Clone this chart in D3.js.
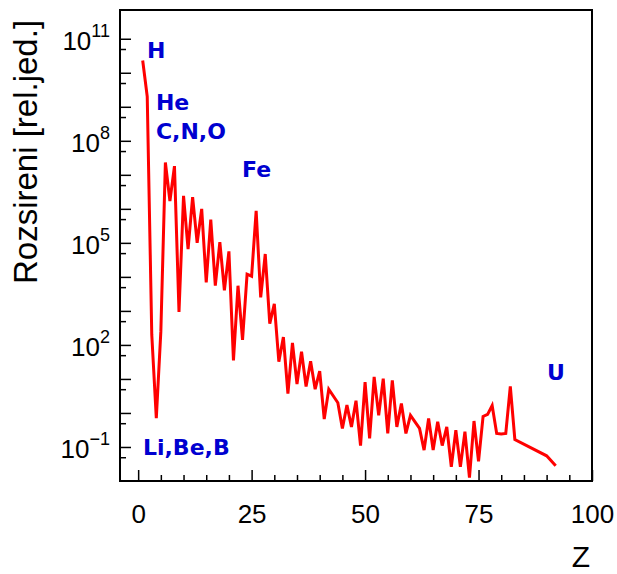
<!DOCTYPE html>
<html>
<head>
<meta charset="utf-8">
<script src="https://cdn.jsdelivr.net/npm/d3@7"></script>
<style>
  body { margin: 0; background: #fff; }
  svg { display: block; }
</style>
</head>
<body>
<div id="chart-area"></div>
<script>
// atomic number Z and relative abundance
var zValues = [1, 2, 3, 4, 5, 6, 7, 8, 9, 10,
    11, 12, 13, 14, 15, 16, 17, 18, 19, 20,
    21, 22, 23, 24, 25, 26, 27, 28, 29, 30,
    31, 32, 33, 34, 35, 36, 37, 38, 39, 40,
    41, 42, 44, 45, 46, 47, 48, 49, 50,
    51, 52, 53, 54, 55, 56, 57, 58, 59, 60,
    62, 63, 64, 65, 66, 67, 68, 69, 70,
    71, 72, 73, 74, 75, 76, 77, 78, 79, 80,
    81, 82, 83, 90, 92];
var abundance = [2.3e10, 2.0e9, 200, 0.7, 250, 2.3e7, 1.7e6, 1.8e7, 930, 2.4e6,
    6.6e4, 2.2e6, 1.0e5, 1.0e6, 6.9e3, 4.8e5, 5.5e3, 1.05e5, 4.0e3, 5.6e4,
    35, 5.5e3, 140, 1.2e4, 1.05e4, 8.7e5, 2.5e3, 4.7e4, 420, 1.6e3,
    32, 170, 3.7, 115, 7.1, 63, 6.0, 33, 5.0, 17,
    0.66, 5.0, 2.0, 0.35, 1.7, 0.39, 2.3, 0.11, 8.1,
    0.18, 11.5, 0.85, 10.2, 0.25, 9.1, 0.39, 1.9, 0.25, 0.85,
    0.35, 0.081, 0.69, 0.081, 0.55, 0.11, 0.39, 0.026, 0.31,
    0.026, 0.28, 0.0126, 0.58, 0.038, 0.79, 0.91, 1.66, 0.25, 0.24,
    0.25, 6.0, 0.166, 0.055, 0.028];

var xTickValues = [0, 25, 50, 75, 100];
var yTickExponents = [11, 8, 5, 2, -1];

var elementLabels = ["H", "He", "C,N,O", "Fe", "Li,Be,B", "U"];
var labelZ = [1.94, 3.92, 3.92, 22.9, 1.06, 90.1];
var labelValue = [2.8e10, 8.3e8, 1.1e8, 8.9e6, 0.059, 9.3];

var width = 617, height = 574;
var plot = { left: 120, right: 592, top: 10, bottom: 481 };

var svg = d3.select("#chart-area").append("svg")
    .attr("width", width)
    .attr("height", height);

svg.append("rect")
    .attr("width", width)
    .attr("height", height)
    .attr("fill", "#fff");

var xScale = d3.scaleLinear()
    .domain([-4, 100])
    .range([plot.left, plot.right]);

var yScale = d3.scaleLog()
    .domain([0.01, 7e11])
    .range([plot.bottom, plot.top]);

// x axis, ticks point inward
var xMinor = d3.range(0, 101, 5);
var xAxis = svg.append("g")
    .attr("transform", "translate(0," + plot.bottom + ")")
    .call(d3.axisBottom(xScale)
        .tickValues(xMinor)
        .tickSizeInner(-6)
        .tickSizeOuter(0)
        .tickPadding(24)
        .tickFormat(function (d) { return xTickValues.indexOf(d) >= 0 ? d : ""; }));
xAxis.select(".domain").remove();
xAxis.selectAll(".tick line")
    .attr("stroke", "#000")
    .attr("stroke-width", 1.5)
    .attr("y2", function (d) { return xTickValues.indexOf(d) >= 0 ? -11 : -6; });
xAxis.selectAll(".tick text")
    .attr("font-family", "'Liberation Sans', Arial, sans-serif")
    .attr("font-size", 26)
    .attr("fill", "#000");

// y axis: ticks at 10^n and 5*10^(n-1)
var yTicks = [];
for (var e = -1; e <= 11; e++) {
    yTicks.push(Math.pow(10, e));
    yTicks.push(5 * Math.pow(10, e - 1));
}
var yAxis = svg.append("g")
    .attr("transform", "translate(" + plot.left + ",0)")
    .call(d3.axisLeft(yScale)
        .tickValues(yTicks)
        .tickSizeInner(-6)
        .tickSizeOuter(0)
        .tickFormat(""));
yAxis.select(".domain").remove();
yAxis.selectAll(".tick line")
    .attr("stroke", "#000")
    .attr("stroke-width", 1.5)
    .attr("x2", function (d, i) { return i % 2 == 0 ? 11 : 6; });

var yLabels = svg.append("g")
    .attr("font-family", "'Liberation Sans', Arial, sans-serif")
    .attr("fill", "#000");
yTickExponents.forEach(function (n) {
    var t = yLabels.append("text")
        .attr("x", 110)
        .attr("y", yScale(Math.pow(10, n)) + 11)
        .attr("text-anchor", "end")
        .attr("font-size", 26);
    t.append("tspan").text("10");
    t.append("tspan")
        .attr("font-size", 18)
        .attr("dy", -13)
        .text(n < 0 ? "\u2212" + (-n) : n);
});

// frame
svg.append("rect")
    .attr("x", plot.left)
    .attr("y", plot.top)
    .attr("width", plot.right - plot.left)
    .attr("height", plot.bottom - plot.top)
    .attr("fill", "none")
    .attr("stroke", "#000")
    .attr("stroke-width", 2);

// abundance curve
var points = zValues.map(function (z, i) { return { z: z, v: abundance[i] }; });
svg.append("path")
    .datum(points)
    .attr("fill", "none")
    .attr("stroke", "#ff0000")
    .attr("stroke-width", 3)
    .attr("stroke-linejoin", "miter")
    .attr("d", d3.line()
        .x(function (d) { return xScale(d.z); })
        .y(function (d) { return yScale(d.v); }));

// element labels
svg.append("g")
    .selectAll("text")
    .data(elementLabels)
    .enter().append("text")
    .attr("x", function (d, i) { return xScale(labelZ[i]); })
    .attr("y", function (d, i) { return yScale(labelValue[i]); })
    .attr("font-family", "'DejaVu Sans', Verdana, sans-serif")
    .attr("font-weight", "bold")
    .attr("font-size", 22)
    .attr("fill", "#0000d0")
    .text(function (d) { return d; });

// axis titles
svg.append("text")
    .attr("transform", "translate(37,152) rotate(-90)")
    .attr("text-anchor", "middle")
    .attr("font-family", "'Liberation Sans', Arial, sans-serif")
    .attr("font-size", 33)
    .attr("fill", "#000")
    .text("Rozsireni [rel.jed.]");

svg.append("text")
    .attr("x", 581)
    .attr("y", 567)
    .attr("text-anchor", "middle")
    .attr("font-family", "'Liberation Sans', Arial, sans-serif")
    .attr("font-size", 30)
    .attr("fill", "#000")
    .text("Z");
</script>
</body>
</html>
